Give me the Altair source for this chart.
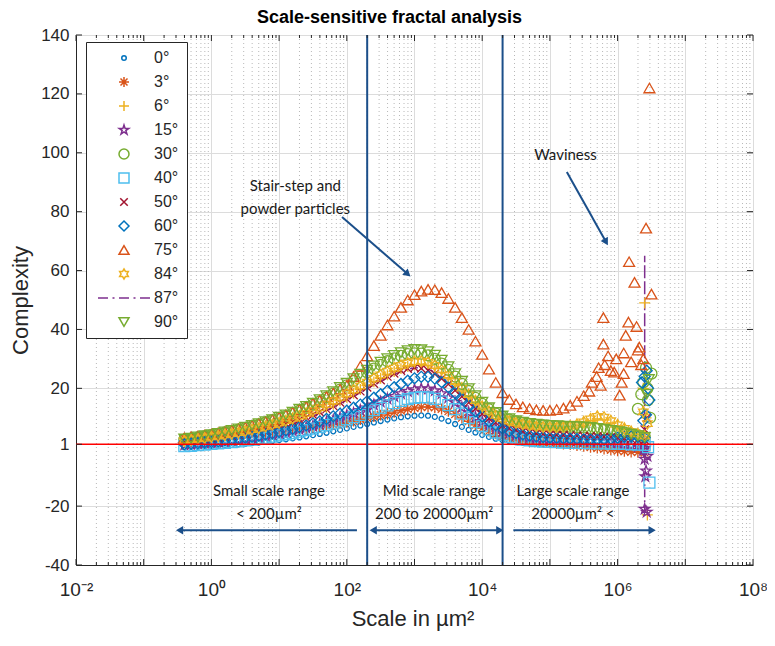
import altair as alt
import pandas as pd

# ---------------- data ----------------
SERIES = ["0°", "3°", "6°", "15°", "30°", "40°", "50°", "60°", "75°", "84°", "87°", "90°"]
COLORS = ["#0072BD", "#D95319", "#EDB120", "#7E2F8E", "#77AC30", "#4DBEEE",
          "#A2142F", "#0072BD", "#D95319", "#EDB120", "#7E2F8E", "#77AC30"]

# log10 of the scale (µm²) of the sampled points
LOG_X = [-0.4, -0.3, -0.2, -0.1, 0.0, 0.1, 0.2, 0.3, 0.4, 0.5,
         0.6, 0.7, 0.8, 0.9, 1.0, 1.1, 1.2, 1.3, 1.4, 1.5,
         1.6, 1.7, 1.8, 1.9, 2.0, 2.1, 2.2, 2.3, 2.4, 2.5,
         2.6, 2.7, 2.8, 2.9, 3.0, 3.1, 3.2, 3.3, 3.4, 3.5,
         3.6, 3.7, 3.8, 3.9, 4.0, 4.1, 4.2, 4.3, 4.4, 4.5,
         4.6, 4.7, 4.8, 4.9, 5.0, 5.1, 5.2, 5.3, 5.4, 5.5,
         5.6, 5.7, 5.8, 5.9, 6.0, 6.1, 6.2, 6.3, 6.4]

Y_0 = [0.0, 0.1, 0.2, 0.3, 0.4, 0.5, 0.6, 0.8, 1.0, 1.2,
       1.4, 1.6, 1.8, 2.1, 2.4, 2.7, 3.0, 3.3, 3.7, 4.1,
       4.5, 4.9, 5.4, 5.9, 6.4, 6.9, 7.4, 7.9, 8.4, 8.9,
       9.4, 9.8, 10.2, 10.5, 10.7, 10.8, 10.7, 10.3, 9.7, 8.9,
       7.9, 6.9, 5.9, 5.0, 4.2, 3.5, 2.9, 2.4, 2.0, 1.7,
       1.5, 1.3, 1.2, 1.1, 1.0, 0.9, 0.9, 0.8, 0.8, 0.7,
       0.7, 0.6, 0.6, 0.5, 0.5, 0.4, 0.4, 0.3, 0.3]
Y_3 = [3.0, 3.1, 3.3, 3.5, 3.7, 3.9, 4.1, 4.3, 4.5, 4.7,
       4.9, 5.1, 5.3, 5.5, 5.7, 5.9, 6.1, 6.3, 6.5, 6.8,
       7.1, 7.4, 7.7, 8.1, 8.5, 8.9, 9.4, 9.9, 10.4, 10.9,
       11.4, 11.9, 12.4, 12.9, 13.3, 13.6, 13.7, 13.5, 13.0, 12.2,
       11.2, 10.0, 8.8, 7.6, 6.5, 5.5, 4.6, 3.9, 3.3, 2.8,
       2.4, 2.1, 1.9, 1.7, 1.5, 1.3, 1.1, 0.9, 0.6, 0.3,
       0.0, -0.3, -0.6, -0.9, -1.2, -1.4, -1.6, -1.7, -1.8]
Y_6 = [2.0, 2.3, 2.6, 2.9, 3.2, 3.5, 3.9, 4.3, 4.7, 5.1,
       5.6, 6.1, 6.6, 7.2, 7.8, 8.4, 9.1, 9.9, 10.7, 11.6,
       12.5, 13.5, 14.6, 15.8, 17.0, 18.3, 19.6, 20.9, 22.2, 23.4,
       24.6, 25.7, 26.7, 27.5, 28.0, 28.1, 27.7, 26.8, 25.4, 23.6,
       21.6, 19.5, 17.4, 15.4, 13.6, 12.0, 10.6, 9.5, 8.7, 8.1,
       7.6, 7.2, 6.9, 6.7, 6.6, 6.6, 6.7, 7.0, 7.5, 8.2,
       9.0, 9.6, 9.3, 8.3, 7.2, 6.1, 5.2, 4.4, 3.7]
Y_15 = [0.8, 1.0, 1.2, 1.4, 1.6, 1.8, 2.0, 2.3, 2.6, 2.9,
        3.2, 3.5, 3.9, 4.3, 4.7, 5.1, 5.6, 6.1, 6.6, 7.2,
        7.8, 8.5, 9.2, 10.0, 10.8, 11.6, 12.5, 13.4, 14.4, 15.4,
        16.4, 17.3, 18.2, 19.0, 19.6, 19.9, 19.8, 19.2, 18.2, 16.8,
        15.2, 13.5, 11.8, 10.2, 8.7, 7.4, 6.3, 5.4, 4.7, 4.1,
        3.6, 3.3, 3.0, 2.8, 2.6, 2.5, 2.4, 2.3, 2.2, 2.1,
        2.0, 1.9, 1.7, 1.5, 1.2, 0.9, 0.6, 0.2, -0.3]
Y_30 = [2.6, 2.9, 3.3, 3.7, 4.1, 4.5, 5.0, 5.5, 6.0, 6.5,
        7.1, 7.7, 8.4, 9.1, 9.8, 10.6, 11.5, 12.4, 13.4, 14.5,
        15.6, 16.9, 18.2, 19.6, 21.0, 22.5, 24.0, 25.4, 26.7, 28.0,
        29.2, 30.2, 31.0, 31.6, 31.9, 31.8, 31.2, 30.0, 28.4, 26.3,
        24.0, 21.5, 19.1, 16.8, 14.7, 12.9, 11.4, 10.2, 9.4, 8.8,
        8.3, 7.9, 7.6, 7.4, 7.2, 7.1, 7.0, 6.9, 6.8, 6.7,
        6.5, 6.3, 6.0, 5.7, 5.3, 5.0, 4.6, 4.1, 3.6]
Y_40 = [0.4, 0.5, 0.7, 0.9, 1.1, 1.3, 1.5, 1.7, 2.0, 2.3,
        2.6, 2.9, 3.2, 3.6, 4.0, 4.4, 4.8, 5.3, 5.8, 6.3,
        6.9, 7.5, 8.1, 8.8, 9.5, 10.2, 11.0, 11.8, 12.6, 13.4,
        14.2, 15.0, 15.7, 16.3, 16.8, 17.0, 16.9, 16.4, 15.5, 14.3,
        12.9, 11.4, 9.9, 8.5, 7.2, 6.0, 5.0, 4.2, 3.5, 3.0,
        2.6, 2.3, 2.1, 1.9, 1.8, 1.7, 1.6, 1.5, 1.5, 1.4,
        1.4, 1.3, 1.3, 1.2, 1.2, 1.1, 1.0, 0.9, 0.8]
Y_50 = [1.8, 2.0, 2.2, 2.5, 2.8, 3.1, 3.5, 3.9, 4.3, 4.7,
        5.1, 5.6, 6.1, 6.7, 7.3, 7.9, 8.6, 9.3, 10.1, 11.0,
        11.9, 12.9, 14.0, 15.2, 16.4, 17.7, 19.0, 20.3, 21.6, 22.8,
        24.0, 25.1, 26.0, 26.7, 27.0, 26.8, 26.1, 24.9, 23.3, 21.4,
        19.3, 17.2, 15.1, 13.1, 11.3, 9.7, 8.4, 7.3, 6.5, 5.9,
        5.4, 5.0, 4.7, 4.5, 4.3, 4.2, 4.1, 4.0, 3.9, 3.8,
        3.7, 3.6, 3.5, 3.4, 3.2, 3.0, 2.8, 2.6, 2.4]
Y_60 = [1.0, 1.2, 1.4, 1.6, 1.8, 2.0, 2.3, 2.6, 2.9, 3.2,
        3.5, 3.9, 4.3, 4.7, 5.2, 5.7, 6.2, 6.8, 7.4, 8.1,
        8.8, 9.6, 10.5, 11.4, 12.4, 13.4, 14.5, 15.6, 16.8, 18.0,
        19.2, 20.4, 21.5, 22.6, 23.4, 23.9, 23.9, 23.3, 22.1, 20.4,
        18.4, 16.3, 14.2, 12.2, 10.4, 8.8, 7.5, 6.4, 5.5, 4.8,
        4.3, 3.9, 3.6, 3.4, 3.2, 3.1, 3.0, 2.9, 2.8, 2.7,
        2.6, 2.6, 2.7, 2.9, 3.2, 3.5, 3.7, 3.6, 3.2]
Y_75 = [3.2, 3.5, 3.8, 4.1, 4.5, 4.9, 5.3, 5.8, 6.3, 6.8,
        7.4, 8.0, 8.7, 9.4, 10.2, 11.0, 11.9, 12.8, 13.8, 14.9,
        16.0, 17.2, 18.4, 19.7, 21.0, 24.0, 27.5, 31.0, 34.5, 38.0,
        41.5, 44.5, 47.5, 50.0, 51.8, 53.0, 53.6, 53.5, 52.5, 50.5,
        47.5, 44.0, 40.0, 36.0, 31.5, 26.5, 22.0, 18.5, 16.2, 14.7,
        13.7, 13.1, 12.7, 12.5, 12.5, 12.8, 13.3, 14.2, 15.6, 17.5]
Y_84 = [2.2, 2.5, 2.8, 3.1, 3.5, 3.8, 4.2, 4.6, 5.0, 5.5,
        6.0, 6.5, 7.1, 7.7, 8.3, 9.0, 9.8, 10.6, 11.5, 12.4,
        13.4, 14.5, 15.7, 16.9, 18.2, 19.5, 20.8, 22.1, 23.4, 24.6,
        25.8, 26.9, 27.8, 28.6, 29.1, 29.2, 28.8, 27.8, 26.3, 24.4,
        22.3, 20.1, 17.9, 15.8, 13.9, 12.2, 10.8, 9.7, 8.9, 8.3,
        7.8, 7.4, 7.1, 6.9, 6.8, 6.8, 6.9, 7.2, 7.8, 8.6,
        9.6, 10.5, 10.2, 9.0, 7.6, 6.4, 5.3, 4.5, 3.8]
Y_87 = [1.6, 1.8, 2.0, 2.3, 2.6, 2.9, 3.2, 3.6, 4.0, 4.4,
        4.8, 5.3, 5.8, 6.3, 6.9, 7.5, 8.2, 8.9, 9.7, 10.6,
        11.5, 12.5, 13.6, 14.8, 16.0, 17.3, 18.6, 19.9, 21.2, 22.4,
        23.6, 24.7, 25.7, 26.5, 27.0, 27.0, 26.5, 25.4, 23.9, 22.0,
        19.9, 17.7, 15.5, 13.4, 11.5, 9.9, 8.5, 7.4, 6.5, 5.8,
        5.3, 4.9, 4.6, 4.4, 4.2, 4.1, 4.0, 3.9, 3.8, 3.8,
        3.8, 3.9, 4.0, 4.2, 4.3, 4.2, 4.0, 3.6, 3.0]
Y_90 = [2.8, 3.1, 3.5, 3.9, 4.3, 4.7, 5.2, 5.7, 6.2, 6.8,
        7.4, 8.0, 8.7, 9.4, 10.2, 11.0, 11.9, 12.9, 13.9, 15.0,
        16.2, 17.5, 18.9, 20.3, 21.8, 23.3, 24.8, 26.2, 27.6, 28.9,
        30.1, 31.2, 32.1, 32.8, 33.2, 33.1, 32.5, 31.3, 29.6, 27.4,
        25.0, 22.4, 19.9, 17.5, 15.3, 13.4, 11.8, 10.6, 9.7, 9.0,
        8.5, 8.1, 7.8, 7.6, 7.4, 7.3, 7.2, 7.1, 7.0, 6.9,
        6.7, 6.4, 6.1, 5.7, 5.3, 4.9, 4.4, 3.9, 3.3]

# scattered points at the large-scale end: (log10 scale, complexity)
TAIL_6 = [(6.38, 20.0), (6.40, 49.0), (6.42, 10.0), (6.44, -23.0)]
TAIL_15 = [(6.35, 2.0), (6.38, -1.0), (6.40, -4.0), (6.42, -8.0), (6.44, -3.0),
           (6.41, -10.0), (6.40, -21.0), (6.43, -22.0)]
TAIL_30 = [(6.30, 13.0), (6.35, 18.0), (6.38, 22.0), (6.42, 27.0), (6.44, 20.0),
           (6.45, 16.0), (6.48, 10.0), (6.50, 25.0)]
TAIL_40 = [(6.45, 0.0), (6.47, -12.0)]
TAIL_50 = [(6.40, 6.0), (6.43, 10.0)]
TAIL_60 = [(6.36, 22.0), (6.38, 9.0), (6.40, 24.0), (6.42, 11.0), (6.43, 26.0),
           (6.45, 20.0), (6.47, 16.0)]
TAIL_75 = [(5.58, 19.0), (5.62, 22.0), (5.69, 24.0), (5.72, 27.0), (5.75, 21.0),
           (5.79, 35.0), (5.81, 28.0), (5.79, 44.0), (5.86, 31.0), (5.90, 26.0),
           (5.95, 25.5), (5.98, 30.0), (6.03, 17.7), (6.06, 22.0), (6.09, 25.0),
           (6.09, 32.0), (6.12, 38.0), (6.16, 42.5), (6.17, 63.0), (6.20, 29.0),
           (6.25, 56.0), (6.28, 41.0), (6.30, 33.0), (6.32, 34.0), (6.35, 28.0),
           (6.38, 30.0), (6.42, 74.4), (6.47, 122.0), (6.50, 52.0)]
TAIL_84 = [(6.38, 12.0), (6.44, 8.0)]
TAIL_87 = [(6.40, 65.0), (6.40, 30.0), (6.40, -22.0)]
TAIL_90 = [(6.43, 18.0), (6.46, 23.0)]

# annotations: text, log10 x, y
ANNO_TEXT = ["Stair-step and", "powder particles", "Waviness",
             "Small scale range", "< 200µm²", "Mid scale range", "200 to 20000µm²",
             "Large scale range", "20000µm² <"]
ANNO_LX = [1.24, 1.24, 5.23, 0.85, 0.85, 3.29, 3.29, 5.34, 5.34]
ANNO_Y = [88.7, 80.9, 99.2, -14.8, -22.6, -14.8, -22.6, -14.8, -22.6]
# arrows: start/end (log10 x, y)
ARROW_LX1 = [1.93, 5.25, 2.15, 2.39, 4.46]
ARROW_Y1 = [78.2, 93.5, -28.2, -28.2, -28.2]
ARROW_LX2 = [2.90, 5.83, -0.47, 4.26, 6.51]
ARROW_Y2 = [58.8, 69.7, -28.2, -28.2, -28.2]
# arrow heads: (log10 x, y, angle in degrees)
HEAD_LX = [2.90, 5.83, -0.47, 2.39, 4.26, 6.51]
HEAD_Y = [58.8, 69.7, -28.2, -28.2, -28.2, -28.2]
HEAD_ANGLE = [41, 60, 180, 180, 0, 0]

RANGE_BOUNDS = [200, 20000]
REF_LINE = [1]
Y_TICKS = [-40, -20, 1, 20, 40, 60, 80, 100, 120, 140]
DECADES = [1e-2, 1e-1, 1e0, 1e1, 1e2, 1e3, 1e4, 1e5, 1e6, 1e7, 1e8]
MINOR = [m * d for d in DECADES[:-1] for m in (2, 3, 4, 5, 6, 7, 8, 9)]

# ---------------- marker shapes (MATLAB-like) ----------------
DOT = "M0,-0.45A0.45,0.45,0,1,1,0,0.45A0.45,0.45,0,1,1,0,-0.45Z"
ASTERISK = "M-1,0L1,0M0,-1L0,1M-0.7,-0.7L0.7,0.7M-0.7,0.7L0.7,-0.7"
PLUS = "M-1,0L1,0M0,-1L0,1"
PENTAGRAM = ("M0,-1L0.225,-0.309L0.951,-0.309L0.363,0.118L0.588,0.809L0,0.382"
             "L-0.588,0.809L-0.363,0.118L-0.951,-0.309L-0.225,-0.309Z")
XMARK = "M-0.75,-0.75L0.75,0.75M-0.75,0.75L0.75,-0.75"
HEXAGRAM = ("M0,-1L0.289,-0.5L0.866,-0.5L0.577,0L0.866,0.5L0.289,0.5L0,1"
            "L-0.289,0.5L-0.866,0.5L-0.577,0L-0.866,-0.5L-0.289,-0.5Z")
DASHDOT = "M-5.2,0L-3.2,0M-2.3,0L-1.9,0M-1.0,0L1.0,0M1.9,0L2.3,0M3.2,0L5.2,0"
SHAPES = [DOT, ASTERISK, PLUS, PENTAGRAM, "circle", "square", XMARK, "diamond",
          "triangle-up", HEXAGRAM, DASHDOT, "triangle-down"]

MAIN = {"0°": Y_0, "3°": Y_3, "6°": Y_6, "15°": Y_15, "30°": Y_30, "40°": Y_40,
        "50°": Y_50, "60°": Y_60, "75°": Y_75, "84°": Y_84, "87°": Y_87, "90°": Y_90}
TAILS = {"6°": TAIL_6, "15°": TAIL_15, "30°": TAIL_30, "40°": TAIL_40, "50°": TAIL_50,
         "60°": TAIL_60, "75°": TAIL_75, "84°": TAIL_84, "87°": TAIL_87, "90°": TAIL_90}

# ---------------- tables ----------------
pts, line87 = [], []
for s in SERIES:
    seq = list(zip(LOG_X, MAIN[s])) + TAILS.get(s, [])
    for i, (e, v) in enumerate(seq):
        row = {"series": s, "scale": 10 ** e, "value": v, "idx": i}
        (line87 if s == "87°" else pts).append(row)
pts = pd.DataFrame(pts)
line87 = pd.DataFrame(line87)

anno = pd.DataFrame({"scale": [10 ** e for e in ANNO_LX], "value": ANNO_Y, "text": ANNO_TEXT})
arrows = pd.DataFrame({"scale": [10 ** e for e in ARROW_LX1], "value": ARROW_Y1,
                       "scale2": [10 ** e for e in ARROW_LX2], "value2": ARROW_Y2})
heads = pd.DataFrame({"scale": [10 ** e for e in HEAD_LX], "value": HEAD_Y, "angle": HEAD_ANGLE})

# ---------------- chart ----------------
W, H = 677, 530
AX = "#262626"
NAVY = "#1B4F8A"
FONT = "Liberation Sans"
xscale = alt.Scale(type="log", domain=[1e-2, 1e8], nice=False)
yscale = alt.Scale(domain=[-40, 140], nice=False, zero=False)

x_label_expr = ("round(log(datum.value)/LN10) == -2 ? '10⁻²' : "
                "round(log(datum.value)/LN10) == 0 ? '10⁰' : "
                "round(log(datum.value)/LN10) == 2 ? '10²' : "
                "round(log(datum.value)/LN10) == 4 ? '10⁴' : "
                "round(log(datum.value)/LN10) == 6 ? '10⁶' : "
                "round(log(datum.value)/LN10) == 8 ? '10⁸' : ''")

XAXIS = alt.Axis(values=DECADES, labelExpr=x_label_expr, grid=True, gridColor="#DCDCDC",
                 ticks=False, domainColor=AX, labelFont=FONT, labelFontSize=19,
                 labelColor=AX, labelPadding=15, labelFlush=False,
                 title="Scale in µm²", titleFont=FONT, titleFontSize=22,
                 titleFontWeight="normal", titleColor=AX, titleX=W / 2 - 2, titleY=53,
                 titleBaseline="middle", titleAlign="center")
YAXIS = alt.Axis(values=Y_TICKS, labelExpr="datum.value + ''", grid=True,
                 gridColor="#DCDCDC", ticks=False, domainColor=AX, labelFont=FONT,
                 labelFontSize=17, labelColor=AX, labelPadding=7,
                 title="Complexity", titleFont=FONT, titleFontSize=22,
                 titleFontWeight="normal", titleColor=AX, titleX=-56, titleY=H / 2,
                 titleBaseline="middle", titleAlign="center", titleAngle=270)

XENC = alt.X("scale:Q", scale=xscale, axis=XAXIS)
YENC = alt.Y("value:Q", scale=yscale, axis=YAXIS)

LEG = alt.Legend(title=None, orient="none", legendX=10, legendY=7, fillColor="white",
                 strokeColor=AX, padding=8, labelFont=FONT, labelFontSize=16,
                 labelColor=AX, symbolSize=100, symbolStrokeWidth=1.5,
                 rowPadding=8, symbolOffset=22, labelOffset=22, labelLimit=80)

minor_grid = alt.Chart(pd.DataFrame({"scale": MINOR})).mark_rule(
    color="#B8B8B8", strokeDash=[1, 3], strokeWidth=1
).encode(x=XENC)

line_layer = alt.Chart(line87).mark_line(
    color="#7E2F8E", strokeDash=[8, 3, 2, 3], strokeWidth=1.5
).encode(x=XENC, y=YENC, order=alt.Order("idx:Q"))

points = alt.Chart(pts).mark_point(filled=False, size=120, strokeWidth=1.3, opacity=1).encode(
    x=XENC, y=YENC,
    color=alt.Color("series:N", scale=alt.Scale(domain=SERIES, range=COLORS), legend=LEG),
    shape=alt.Shape("series:N", scale=alt.Scale(domain=SERIES, range=SHAPES), legend=LEG),
)

ref_line = alt.Chart(pd.DataFrame({"value": REF_LINE})).mark_rule(
    color="#FF0000", strokeWidth=1.5
).encode(y=YENC)

bounds = alt.Chart(pd.DataFrame({"scale": RANGE_BOUNDS})).mark_rule(
    color=NAVY, strokeWidth=2
).encode(x=XENC)

arrow_lines = alt.Chart(arrows).mark_rule(color=NAVY, strokeWidth=2).encode(
    x=XENC, x2="scale2:Q", y=YENC, y2="value2:Q",
)
arrow_heads = alt.Chart(heads).mark_point(
    shape="triangle-right", filled=True, color=NAVY, size=70, opacity=1
).encode(x=XENC, y=YENC, angle=alt.Angle("angle:Q", scale=None))

texts = alt.Chart(anno).mark_text(
    font="Lato", fontSize=15, color="#1a1a1a", align="center", baseline="middle"
).encode(x=XENC, y=YENC, text="text:N")

# inward ticks on all four sides
xt_major = pd.DataFrame({"scale": DECADES})
xt_minor = pd.DataFrame({"scale": MINOR})
yt = pd.DataFrame({"value": Y_TICKS})
tick_layers = [
    alt.Chart(xt_major).mark_rule(color=AX).encode(x=XENC, y=alt.value(H), y2=alt.value(H - 6)),
    alt.Chart(xt_major).mark_rule(color=AX).encode(x=XENC, y=alt.value(0), y2=alt.value(6)),
    alt.Chart(xt_minor).mark_rule(color=AX).encode(x=XENC, y=alt.value(H), y2=alt.value(H - 3)),
    alt.Chart(xt_minor).mark_rule(color=AX).encode(x=XENC, y=alt.value(0), y2=alt.value(3)),
    alt.Chart(yt).mark_rule(color=AX).encode(y=YENC, x=alt.value(0), x2=alt.value(6)),
    alt.Chart(yt).mark_rule(color=AX).encode(y=YENC, x=alt.value(W), x2=alt.value(W - 6)),
]

chart = alt.layer(
    minor_grid, line_layer, points, ref_line, bounds, arrow_lines, arrow_heads, texts,
    *tick_layers
).properties(
    width=W, height=H,
    title=alt.Title("Scale-sensitive fractal analysis", font=FONT, fontSize=18,
                    fontWeight="bold", color="#000000", offset=-1, anchor="middle", dx=-25),
    autosize=alt.AutoSizeParams(type="none"),
    padding={"left": 68, "top": 27, "right": 14, "bottom": 66},
).configure_view(stroke=AX, strokeWidth=1).configure(background="white")

chart.save("out.html", embed_options={"renderer": "svg", "actions": False})
